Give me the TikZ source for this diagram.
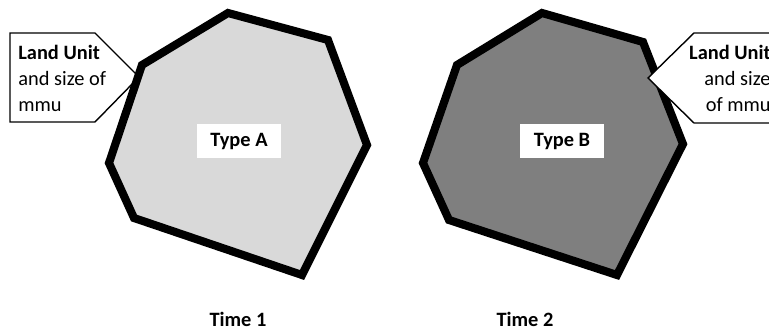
\documentclass[tikz,border=0pt]{standalone}
\usepackage{fontspec}
\setmainfont{Carlito}
\usetikzlibrary{calc}

\definecolor{lightparcel}{HTML}{D9D9D9}
\definecolor{darkparcel}{HTML}{7F7F7F}

\begin{document}
\begin{tikzpicture}[x=0.02cm,y=-0.02cm,
    parcel/.style={draw=black,line width=4.6pt,line join=miter},
    callout/.style={draw=black,fill=white,line width=0.8pt},
    typebox/.style={fill=white,inner sep=0pt,minimum width=48pt,minimum height=19pt,font=\fontsize{11.6}{13}\selectfont\bfseries},
    note/.style={inner sep=0pt,font=\fontsize{11.6}{14.8}\selectfont},
    timelabel/.style={font=\fontsize{11.6}{13}\selectfont\bfseries}]

    \useasboundingbox (0,0) rectangle (769,334);
    \clip (0,0) rectangle (769,334);

    % Define the corners of the land unit at time 1
    \coordinate (A1) at (228,13);
    \coordinate (B1) at (328,40);
    \coordinate (C1) at (367,145);
    \coordinate (D1) at (302,275);
    \coordinate (E1) at (134,218);
    \coordinate (F1) at (109,163);
    \coordinate (G1) at (142,65);

    % Define the corners of the land unit at time 2
    \coordinate (A2) at (542,13);
    \coordinate (B2) at (643,42);
    \coordinate (C2) at (683,144);
    \coordinate (D2) at (617,275);
    \coordinate (E2) at (449,220);
    \coordinate (F2) at (423,163);
    \coordinate (G2) at (457,65);

    % Tips of the two callouts
    \coordinate (tipL) at (139,77);
    \coordinate (tipR) at (648,78);

    % Callout at time 1 (under the outline)
    \draw[callout] (10,33) -- (95,33) -- (tipL) -- (95,122) -- (10,122) -- cycle;
    \node[note,anchor=north west,align=left] (noteL) at (18,45)
        {\textbf{Land Unit}\\and size of\\mmu};

    % Draw the two land units
    \draw[parcel,fill=lightparcel] (A1) -- (B1) -- (C1) -- (D1) -- (E1) -- (F1) -- (G1) -- cycle;
    \draw[parcel,fill=darkparcel] (A2) -- (B2) -- (C2) -- (D2) -- (E2) -- (F2) -- (G2) -- cycle;

    % Callout at time 2 (over the outline)
    \draw[callout] (tipR) -- (694,33) -- (800,33) -- (800,123) -- (694,123) -- cycle;
    \node[note,anchor=north east,align=right] (noteR) at (771,45)
        {\textbf{Land Unit}\\and size\\of mmu};

    % Type labels
    \node[typebox] (typeA) at (239,141) {Type A};
    \node[typebox] (typeB) at (562,141) {Type B};

    % Time labels at the bottom
    \node[timelabel] (time1) at (238,319) {Time 1};
    \node[timelabel] (time2) at (525,319) {Time 2};

\end{tikzpicture}
\end{document}
